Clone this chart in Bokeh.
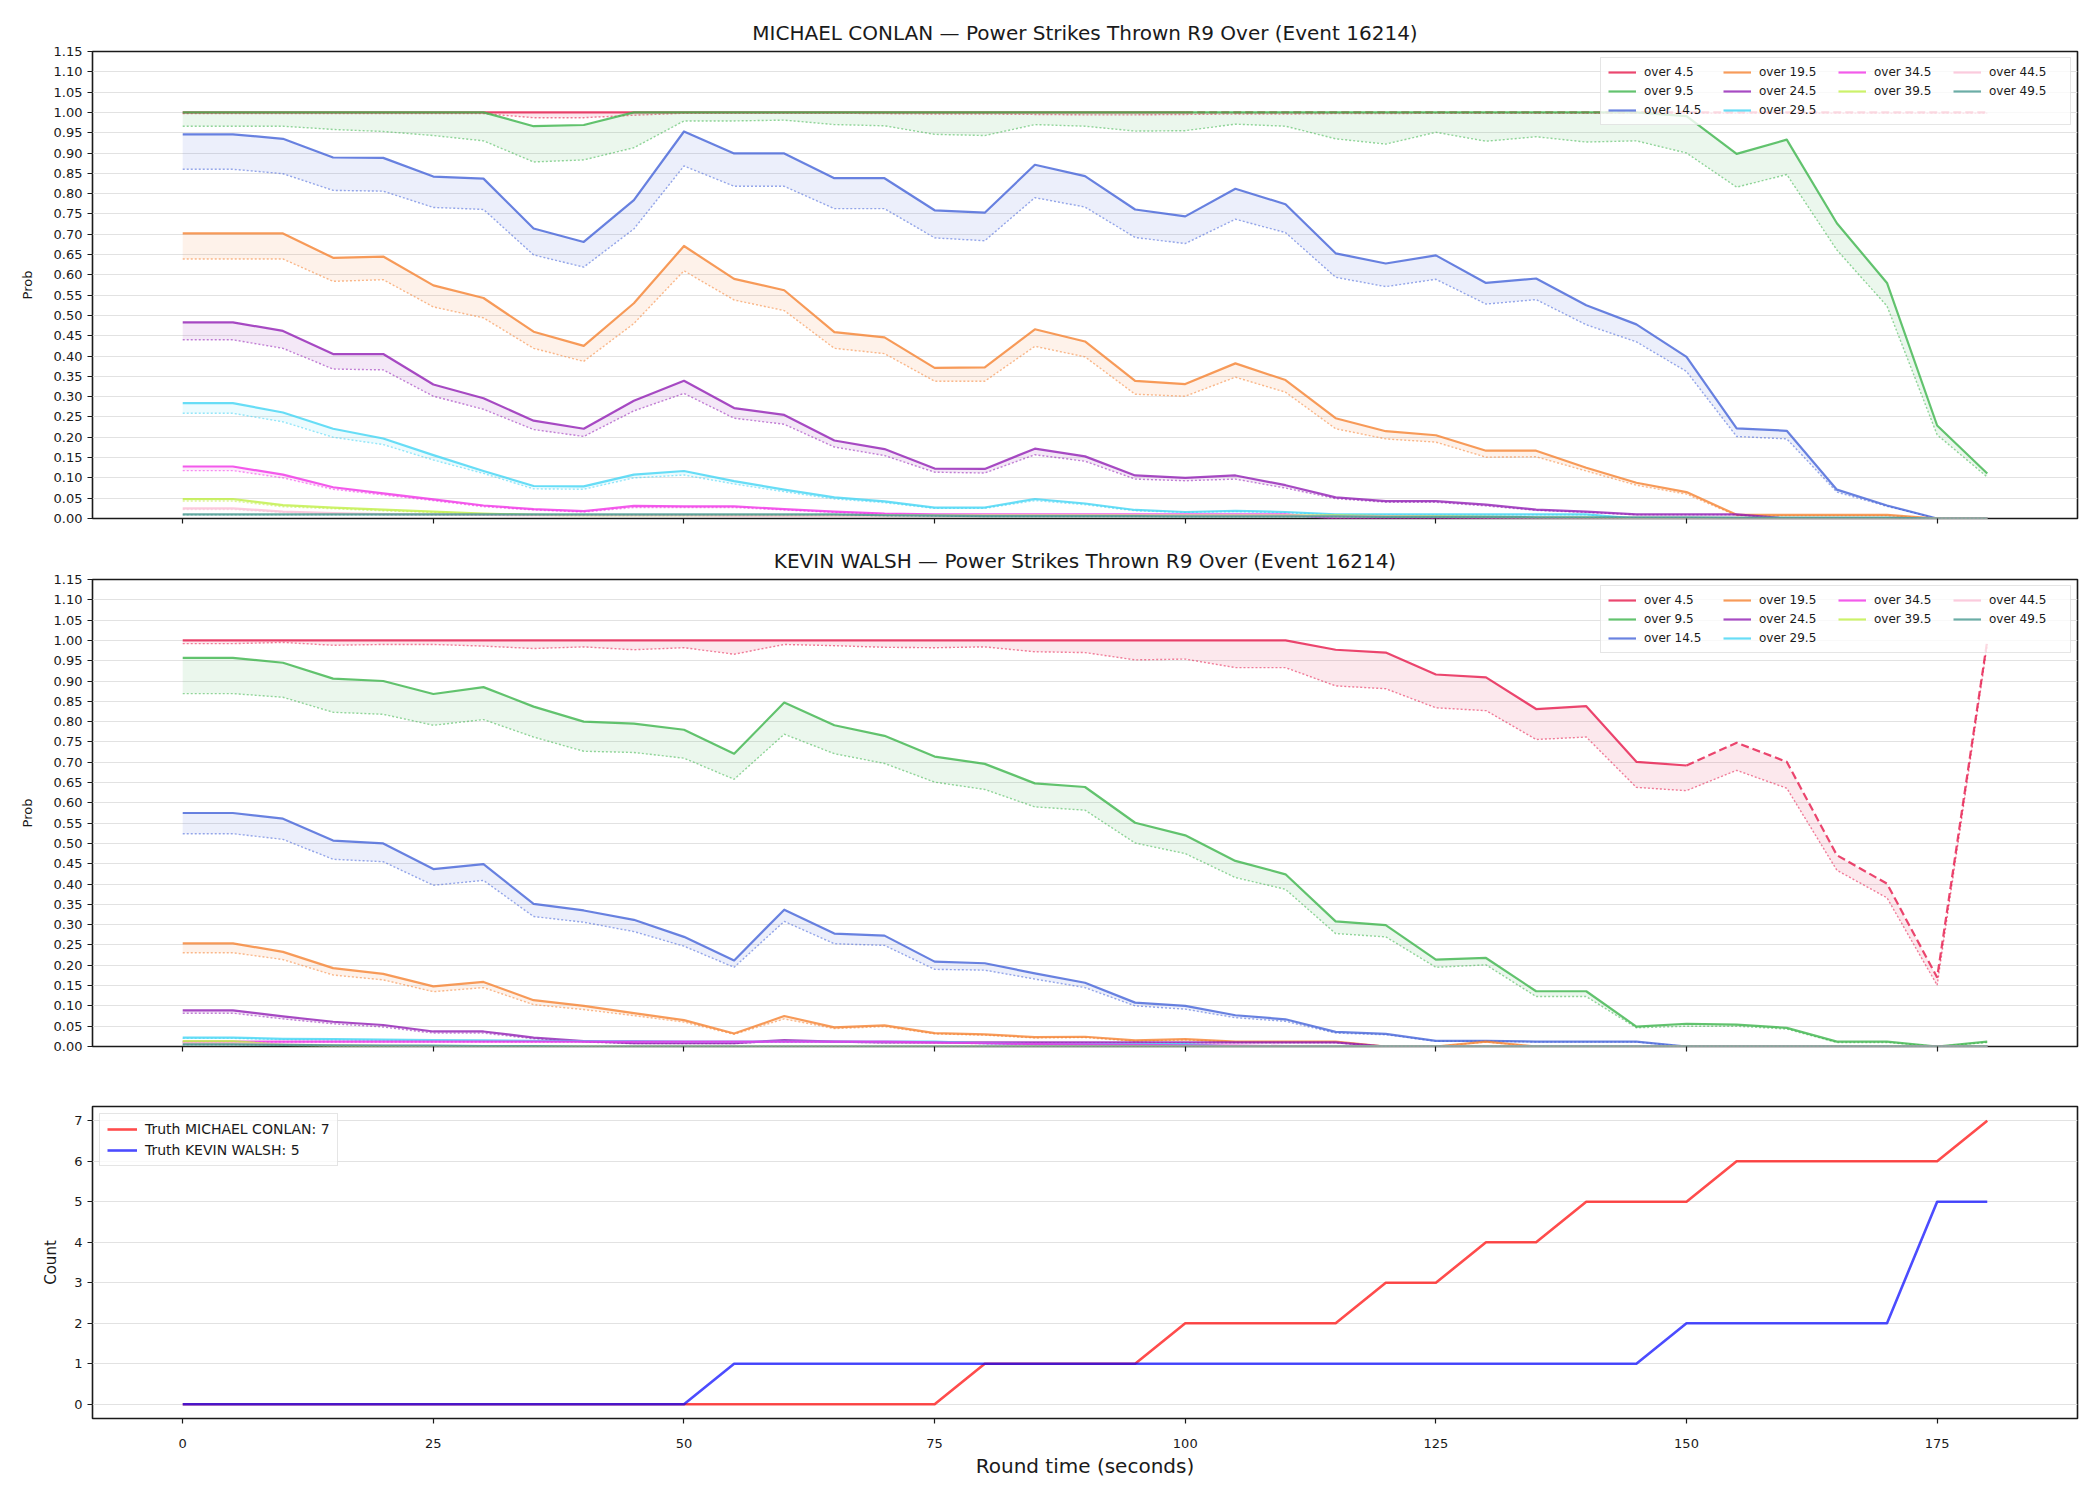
from bokeh.plotting import figure
from bokeh.layouts import column
from bokeh.models import FixedTicker, NumeralTickFormatter, Legend, LegendItem, Range1d
from bokeh.embed import file_html
from bokeh.resources import INLINE

# ---------------------------------------------------------------- data
seconds = [0, 5, 10, 15, 20, 25, 30, 35, 40, 45, 50, 55, 60, 65, 70, 75, 80, 85, 90,
           95, 100, 105, 110, 115, 120, 125, 130, 135, 140, 145, 150, 155, 160, 165,
           170, 175, 180]

fighters = ["MICHAEL CONLAN", "KEVIN WALSH"]
market = "Power Strikes Thrown R9 Over"
event_id = 16214

thresholds = ["over 4.5", "over 9.5", "over 14.5", "over 19.5", "over 24.5",
              "over 29.5", "over 34.5", "over 39.5", "over 44.5", "over 49.5"]
palette = ["#e6194b", "#3cb44b", "#4363d8", "#f58231", "#911eb4",
           "#42d4f4", "#f032e6", "#bfef45", "#fabed4", "#469990"]

# over 4.5 is drawn dashed from these times on
dashed_from = {"MICHAEL CONLAN": 100, "KEVIN WALSH": 150}

# MICHAEL CONLAN: model probability (solid) and lower band (dotted)
conlan_45 = [1.000, 1.000, 1.000, 1.000, 1.000, 1.000, 1.000, 1.000, 1.000, 1.000, 1.000,
             1.000, 1.000, 1.000, 1.000, 1.000, 1.000, 1.000, 1.000, 1.000, 1.000, 1.000, 1.000,
             1.000, 1.000, 1.000, 1.000, 1.000, 1.000, 1.000, 1.000, 1.000, 1.000, 1.000, 1.000, 1.000, 1.000]
conlan_45_lo = [0.997, 0.997, 0.997, 0.997, 0.997, 0.997, 0.997, 0.987, 0.987, 0.993, 0.998,
                0.998, 0.998, 0.998, 0.997, 0.996, 0.996, 0.995, 0.994, 0.994, 0.995, 0.996, 0.996,
                0.997, 0.997, 0.998, 0.998, 0.998, 0.998, 0.998, 0.998, 0.998, 0.998, 0.998, 0.998, 0.998, 0.998]
conlan_95 = [1.000, 1.000, 1.000, 1.000, 1.000, 1.000, 1.000, 0.966, 0.969, 1.000, 1.000,
             1.000, 1.000, 1.000, 1.000, 1.000, 1.000, 1.000, 1.000, 1.000, 1.000, 1.000, 1.000,
             1.000, 1.000, 1.000, 1.000, 1.000, 1.000, 1.000, 0.991, 0.898, 0.933, 0.727, 0.580, 0.229, 0.111]
conlan_95_lo = [0.966, 0.966, 0.966, 0.958, 0.953, 0.943, 0.930, 0.878, 0.883, 0.913, 0.979,
                0.979, 0.981, 0.970, 0.967, 0.946, 0.943, 0.970, 0.966, 0.954, 0.955, 0.971, 0.966,
                0.935, 0.922, 0.951, 0.929, 0.940, 0.927, 0.930, 0.900, 0.816, 0.847, 0.661, 0.523, 0.206, 0.102]
conlan_145 = [0.946, 0.946, 0.935, 0.889, 0.888, 0.842, 0.837, 0.714, 0.681, 0.784, 0.953,
              0.899, 0.899, 0.838, 0.838, 0.759, 0.753, 0.871, 0.843, 0.761, 0.744, 0.812, 0.774,
              0.653, 0.628, 0.648, 0.580, 0.591, 0.525, 0.478, 0.398, 0.222, 0.216, 0.071, 0.032, 0.000, 0.000]
conlan_145_lo = [0.860, 0.860, 0.849, 0.808, 0.806, 0.766, 0.761, 0.649, 0.619, 0.713, 0.868,
                 0.818, 0.818, 0.763, 0.763, 0.691, 0.684, 0.790, 0.767, 0.692, 0.677, 0.737, 0.704,
                 0.594, 0.571, 0.589, 0.528, 0.539, 0.477, 0.435, 0.362, 0.202, 0.196, 0.065, 0.030, 0.000, 0.000]
conlan_195 = [0.702, 0.702, 0.702, 0.642, 0.645, 0.574, 0.543, 0.460, 0.425, 0.530, 0.671,
              0.590, 0.562, 0.459, 0.446, 0.371, 0.372, 0.466, 0.436, 0.339, 0.331, 0.382, 0.341,
              0.247, 0.215, 0.205, 0.167, 0.167, 0.125, 0.088, 0.065, 0.009, 0.009, 0.009, 0.009, 0.000, 0.000]
conlan_195_lo = [0.639, 0.639, 0.639, 0.584, 0.588, 0.521, 0.494, 0.419, 0.387, 0.480, 0.610,
                 0.538, 0.512, 0.419, 0.406, 0.338, 0.338, 0.424, 0.398, 0.306, 0.301, 0.348, 0.311,
                 0.221, 0.196, 0.188, 0.151, 0.152, 0.117, 0.082, 0.060, 0.007, 0.007, 0.007, 0.007, 0.000, 0.000]
conlan_245 = [0.483, 0.483, 0.462, 0.405, 0.405, 0.330, 0.296, 0.241, 0.221, 0.290, 0.339,
              0.272, 0.255, 0.192, 0.171, 0.123, 0.122, 0.172, 0.153, 0.106, 0.100, 0.106, 0.082,
              0.052, 0.043, 0.043, 0.034, 0.022, 0.017, 0.010, 0.010, 0.010, 0.000, 0.000, 0.000, 0.000, 0.000]
conlan_245_lo = [0.440, 0.440, 0.419, 0.368, 0.366, 0.301, 0.269, 0.219, 0.202, 0.265, 0.308,
                 0.247, 0.232, 0.176, 0.155, 0.114, 0.112, 0.157, 0.141, 0.097, 0.093, 0.097, 0.075,
                 0.049, 0.040, 0.040, 0.031, 0.020, 0.015, 0.009, 0.009, 0.009, 0.000, 0.000, 0.000, 0.000, 0.000]
conlan_295 = [0.284, 0.284, 0.261, 0.221, 0.197, 0.156, 0.117, 0.080, 0.079, 0.108, 0.117,
              0.092, 0.071, 0.052, 0.042, 0.027, 0.027, 0.048, 0.037, 0.021, 0.016, 0.019, 0.016,
              0.010, 0.010, 0.010, 0.010, 0.010, 0.010, 0.000, 0.000, 0.000, 0.000, 0.000, 0.000, 0.000, 0.000]
conlan_295_lo = [0.259, 0.259, 0.238, 0.200, 0.182, 0.144, 0.111, 0.073, 0.072, 0.100, 0.107,
                 0.085, 0.066, 0.048, 0.039, 0.025, 0.025, 0.044, 0.034, 0.019, 0.015, 0.017, 0.014,
                 0.009, 0.009, 0.009, 0.009, 0.009, 0.009, 0.000, 0.000, 0.000, 0.000, 0.000, 0.000, 0.000, 0.000]
conlan_345 = [0.128, 0.128, 0.108, 0.077, 0.062, 0.047, 0.032, 0.023, 0.018, 0.031, 0.030,
              0.030, 0.023, 0.017, 0.012, 0.010, 0.010, 0.010, 0.010, 0.010, 0.010, 0.010, 0.010,
              0.000, 0.000, 0.000, 0.000, 0.000, 0.000, 0.000, 0.000, 0.000, 0.000, 0.000, 0.000, 0.000, 0.000]
conlan_345_lo = [0.118, 0.118, 0.100, 0.072, 0.058, 0.044, 0.029, 0.021, 0.016, 0.027, 0.027,
                 0.027, 0.021, 0.015, 0.011, 0.009, 0.009, 0.009, 0.009, 0.009, 0.009, 0.009, 0.009,
                 0.000, 0.000, 0.000, 0.000, 0.000, 0.000, 0.000, 0.000, 0.000, 0.000, 0.000, 0.000, 0.000, 0.000]
conlan_395 = [0.048, 0.048, 0.033, 0.027, 0.022, 0.017, 0.012, 0.009, 0.008, 0.008, 0.008,
              0.008, 0.008, 0.008, 0.008, 0.008, 0.008, 0.008, 0.008, 0.008, 0.008, 0.008, 0.008,
              0.008, 0.006, 0.005, 0.004, 0.003, 0.002, 0.000, 0.000, 0.000, 0.000, 0.000, 0.000, 0.000, 0.000]
conlan_395_lo = [0.043, 0.043, 0.029, 0.024, 0.019, 0.015, 0.010, 0.008, 0.007, 0.007, 0.007,
                 0.007, 0.007, 0.007, 0.007, 0.007, 0.007, 0.007, 0.007, 0.007, 0.007, 0.007, 0.007,
                 0.007, 0.005, 0.004, 0.003, 0.002, 0.001, 0.000, 0.000, 0.000, 0.000, 0.000, 0.000, 0.000, 0.000]
conlan_445 = [0.025, 0.025, 0.017, 0.013, 0.011, 0.010, 0.009, 0.008, 0.008, 0.008, 0.008,
              0.007, 0.007, 0.007, 0.007, 0.007, 0.007, 0.007, 0.007, 0.007, 0.007, 0.007, 0.007,
              0.006, 0.005, 0.004, 0.003, 0.002, 0.001, 0.000, 0.000, 0.000, 0.000, 0.000, 0.000, 0.000, 0.000]
conlan_445_lo = [0.022, 0.022, 0.015, 0.011, 0.010, 0.009, 0.008, 0.007, 0.007, 0.007, 0.007,
                 0.006, 0.006, 0.006, 0.006, 0.006, 0.006, 0.006, 0.006, 0.006, 0.006, 0.006, 0.006,
                 0.005, 0.004, 0.003, 0.002, 0.001, 0.001, 0.000, 0.000, 0.000, 0.000, 0.000, 0.000, 0.000, 0.000]
conlan_495 = [0.010, 0.010, 0.010, 0.010, 0.010, 0.010, 0.010, 0.010, 0.010, 0.010, 0.010,
              0.010, 0.010, 0.010, 0.008, 0.007, 0.006, 0.006, 0.006, 0.006, 0.005, 0.005, 0.005,
              0.005, 0.004, 0.004, 0.004, 0.003, 0.003, 0.003, 0.003, 0.002, 0.002, 0.002, 0.002, 0.000, 0.000]
conlan_495_lo = [0.009, 0.009, 0.009, 0.009, 0.009, 0.009, 0.009, 0.009, 0.009, 0.009, 0.009,
                 0.009, 0.009, 0.009, 0.007, 0.006, 0.005, 0.005, 0.005, 0.005, 0.004, 0.004, 0.004,
                 0.004, 0.003, 0.003, 0.003, 0.002, 0.002, 0.002, 0.002, 0.001, 0.001, 0.001, 0.001, 0.000, 0.000]

# KEVIN WALSH: model probability (solid) and lower band (dotted)
walsh_45 = [1.000, 1.000, 1.000, 1.000, 1.000, 1.000, 1.000, 1.000, 1.000, 1.000, 1.000,
            1.000, 1.000, 1.000, 1.000, 1.000, 1.000, 1.000, 1.000, 1.000, 1.000, 1.000, 1.000,
            0.977, 0.970, 0.916, 0.909, 0.831, 0.838, 0.701, 0.692, 0.748, 0.701, 0.471, 0.401, 0.170, 1.000]
walsh_45_lo = [0.992, 0.992, 0.995, 0.988, 0.990, 0.990, 0.986, 0.980, 0.984, 0.977, 0.982,
               0.966, 0.990, 0.987, 0.983, 0.982, 0.984, 0.972, 0.970, 0.952, 0.954, 0.933, 0.933,
               0.888, 0.881, 0.834, 0.827, 0.756, 0.762, 0.638, 0.630, 0.680, 0.636, 0.434, 0.366, 0.151, 0.990]
walsh_95 = [0.957, 0.957, 0.945, 0.906, 0.900, 0.868, 0.885, 0.837, 0.800, 0.795, 0.780,
            0.721, 0.847, 0.791, 0.765, 0.714, 0.696, 0.648, 0.639, 0.551, 0.520, 0.457, 0.424,
            0.308, 0.299, 0.214, 0.218, 0.136, 0.136, 0.049, 0.056, 0.054, 0.046, 0.012, 0.012, 0.000, 0.012]
walsh_95_lo = [0.869, 0.869, 0.860, 0.823, 0.818, 0.791, 0.805, 0.762, 0.727, 0.724, 0.710,
               0.658, 0.769, 0.721, 0.697, 0.651, 0.633, 0.590, 0.582, 0.501, 0.475, 0.416, 0.387,
               0.278, 0.270, 0.195, 0.201, 0.123, 0.123, 0.046, 0.050, 0.050, 0.043, 0.010, 0.010, 0.000, 0.010]
walsh_145 = [0.575, 0.575, 0.561, 0.507, 0.500, 0.437, 0.449, 0.351, 0.335, 0.312, 0.270,
             0.212, 0.337, 0.278, 0.273, 0.209, 0.205, 0.180, 0.157, 0.108, 0.100, 0.077, 0.067,
             0.036, 0.031, 0.014, 0.014, 0.012, 0.012, 0.012, 0.000, 0.000, 0.000, 0.000, 0.000, 0.000, 0.000]
walsh_145_lo = [0.524, 0.524, 0.510, 0.461, 0.455, 0.397, 0.409, 0.320, 0.306, 0.283, 0.247,
                0.195, 0.308, 0.253, 0.249, 0.190, 0.188, 0.166, 0.145, 0.100, 0.092, 0.071, 0.062,
                0.033, 0.029, 0.013, 0.013, 0.011, 0.011, 0.011, 0.000, 0.000, 0.000, 0.000, 0.000, 0.000, 0.000]
walsh_195 = [0.254, 0.254, 0.233, 0.193, 0.179, 0.148, 0.159, 0.114, 0.100, 0.082, 0.065,
             0.032, 0.075, 0.047, 0.052, 0.033, 0.030, 0.023, 0.024, 0.015, 0.018, 0.012, 0.012,
             0.012, 0.000, 0.000, 0.012, 0.000, 0.000, 0.000, 0.000, 0.000, 0.000, 0.000, 0.000, 0.000, 0.000]
walsh_195_lo = [0.231, 0.231, 0.214, 0.176, 0.164, 0.135, 0.145, 0.103, 0.091, 0.076, 0.060,
                0.030, 0.068, 0.044, 0.049, 0.031, 0.028, 0.021, 0.022, 0.013, 0.016, 0.011, 0.011,
                0.011, 0.000, 0.000, 0.011, 0.000, 0.000, 0.000, 0.000, 0.000, 0.000, 0.000, 0.000, 0.000, 0.000]
walsh_245 = [0.089, 0.089, 0.074, 0.061, 0.053, 0.037, 0.037, 0.022, 0.013, 0.008, 0.008,
             0.008, 0.016, 0.012, 0.010, 0.010, 0.010, 0.010, 0.010, 0.010, 0.010, 0.010, 0.010,
             0.010, 0.000, 0.000, 0.000, 0.000, 0.000, 0.000, 0.000, 0.000, 0.000, 0.000, 0.000, 0.000, 0.000]
walsh_245_lo = [0.082, 0.082, 0.068, 0.056, 0.048, 0.033, 0.033, 0.019, 0.011, 0.007, 0.007,
                0.007, 0.014, 0.011, 0.009, 0.009, 0.009, 0.009, 0.009, 0.009, 0.009, 0.009, 0.009,
                0.009, 0.000, 0.000, 0.000, 0.000, 0.000, 0.000, 0.000, 0.000, 0.000, 0.000, 0.000, 0.000, 0.000]
walsh_295 = [0.022, 0.022, 0.019, 0.018, 0.017, 0.016, 0.015, 0.014, 0.013, 0.013, 0.012,
             0.012, 0.012, 0.012, 0.012, 0.012, 0.008, 0.006, 0.006, 0.006, 0.006, 0.000, 0.000,
             0.000, 0.000, 0.000, 0.000, 0.000, 0.000, 0.000, 0.000, 0.000, 0.000, 0.000, 0.000, 0.000, 0.000]
walsh_295_lo = [0.020, 0.020, 0.017, 0.016, 0.015, 0.014, 0.013, 0.012, 0.012, 0.012, 0.011,
                0.011, 0.011, 0.011, 0.011, 0.011, 0.007, 0.005, 0.005, 0.005, 0.005, 0.000, 0.000,
                0.000, 0.000, 0.000, 0.000, 0.000, 0.000, 0.000, 0.000, 0.000, 0.000, 0.000, 0.000, 0.000, 0.000]
walsh_345 = [0.012, 0.012, 0.012, 0.012, 0.012, 0.012, 0.012, 0.012, 0.012, 0.012, 0.012,
             0.012, 0.012, 0.012, 0.012, 0.010, 0.008, 0.006, 0.005, 0.004, 0.003, 0.002, 0.001,
             0.000, 0.000, 0.000, 0.000, 0.000, 0.000, 0.000, 0.000, 0.000, 0.000, 0.000, 0.000, 0.000, 0.000]
walsh_345_lo = [0.011, 0.011, 0.011, 0.011, 0.011, 0.011, 0.011, 0.011, 0.011, 0.011, 0.011,
                0.011, 0.011, 0.011, 0.011, 0.009, 0.007, 0.005, 0.004, 0.003, 0.002, 0.001, 0.000,
                0.000, 0.000, 0.000, 0.000, 0.000, 0.000, 0.000, 0.000, 0.000, 0.000, 0.000, 0.000, 0.000, 0.000]
walsh_395 = [0.013, 0.013, 0.004, 0.002, 0.001, 0.000, 0.000, 0.000, 0.000, 0.000, 0.000,
             0.000, 0.000, 0.000, 0.000, 0.000, 0.000, 0.000, 0.000, 0.000, 0.000, 0.000, 0.000,
             0.000, 0.000, 0.000, 0.000, 0.000, 0.000, 0.000, 0.000, 0.000, 0.000, 0.000, 0.000, 0.000, 0.000]
walsh_395_lo = [0.011, 0.011, 0.003, 0.001, 0.000, 0.000, 0.000, 0.000, 0.000, 0.000, 0.000,
                0.000, 0.000, 0.000, 0.000, 0.000, 0.000, 0.000, 0.000, 0.000, 0.000, 0.000, 0.000,
                0.000, 0.000, 0.000, 0.000, 0.000, 0.000, 0.000, 0.000, 0.000, 0.000, 0.000, 0.000, 0.000, 0.000]
walsh_445 = [0.008, 0.008, 0.005, 0.003, 0.002, 0.001, 0.000, 0.000, 0.000, 0.000, 0.000,
             0.000, 0.000, 0.000, 0.000, 0.000, 0.000, 0.000, 0.000, 0.000, 0.000, 0.000, 0.000,
             0.000, 0.000, 0.000, 0.000, 0.000, 0.000, 0.000, 0.000, 0.000, 0.000, 0.000, 0.000, 0.000, 0.000]
walsh_445_lo = [0.007, 0.007, 0.004, 0.002, 0.001, 0.000, 0.000, 0.000, 0.000, 0.000, 0.000,
                0.000, 0.000, 0.000, 0.000, 0.000, 0.000, 0.000, 0.000, 0.000, 0.000, 0.000, 0.000,
                0.000, 0.000, 0.000, 0.000, 0.000, 0.000, 0.000, 0.000, 0.000, 0.000, 0.000, 0.000, 0.000, 0.000]
walsh_495 = [0.005, 0.005, 0.004, 0.003, 0.002, 0.002, 0.001, 0.001, 0.000, 0.000, 0.000,
             0.000, 0.000, 0.000, 0.000, 0.000, 0.000, 0.000, 0.000, 0.000, 0.000, 0.000, 0.000,
             0.000, 0.000, 0.000, 0.000, 0.000, 0.000, 0.000, 0.000, 0.000, 0.000, 0.000, 0.000, 0.000, 0.000]
walsh_495_lo = [0.004, 0.004, 0.003, 0.002, 0.001, 0.001, 0.000, 0.000, 0.000, 0.000, 0.000,
                0.000, 0.000, 0.000, 0.000, 0.000, 0.000, 0.000, 0.000, 0.000, 0.000, 0.000, 0.000,
                0.000, 0.000, 0.000, 0.000, 0.000, 0.000, 0.000, 0.000, 0.000, 0.000, 0.000, 0.000, 0.000, 0.000]

# running count of power strikes thrown
truth_conlan = [0, 0, 0, 0, 0, 0, 0, 0, 0, 0, 0, 0, 0, 0, 0, 0, 1, 1, 1, 1, 2, 2, 2, 2,
                3, 3, 4, 4, 5, 5, 5, 6, 6, 6, 6, 6, 7]
truth_walsh = [0, 0, 0, 0, 0, 0, 0, 0, 0, 0, 0, 1, 1, 1, 1, 1, 1, 1, 1, 1, 1, 1, 1, 1,
               1, 1, 1, 1, 1, 1, 2, 2, 2, 2, 2, 5, 5]

prob_ticks = [0.00, 0.05, 0.10, 0.15, 0.20, 0.25, 0.30, 0.35, 0.40, 0.45, 0.50, 0.55,
              0.60, 0.65, 0.70, 0.75, 0.80, 0.85, 0.90, 0.95, 1.00, 1.05, 1.10, 1.15]
time_ticks = [0, 25, 50, 75, 100, 125, 150, 175]
count_ticks = [0, 1, 2, 3, 4, 5, 6, 7]

conlan_solid = [conlan_45, conlan_95, conlan_145, conlan_195, conlan_245,
                conlan_295, conlan_345, conlan_395, conlan_445, conlan_495]
conlan_lower = [conlan_45_lo, conlan_95_lo, conlan_145_lo, conlan_195_lo, conlan_245_lo,
                conlan_295_lo, conlan_345_lo, conlan_395_lo, conlan_445_lo, conlan_495_lo]
walsh_solid = [walsh_45, walsh_95, walsh_145, walsh_195, walsh_245,
               walsh_295, walsh_345, walsh_395, walsh_445, walsh_495]
walsh_lower = [walsh_45_lo, walsh_95_lo, walsh_145_lo, walsh_195_lo, walsh_245_lo,
               walsh_295_lo, walsh_345_lo, walsh_395_lo, walsh_445_lo, walsh_495_lo]

# ---------------------------------------------------------------- styling
FONT = "DejaVu Sans"
INK = "#1a1a1a"
W = 2100
X_RANGE = (-9, 189)


def style_axes(p):
    p.outline_line_color = INK
    p.outline_line_width = 1.6
    p.outline_line_alpha = 1.0
    p.xgrid.visible = False
    p.ygrid.grid_line_color = "#e2e2e2"
    p.ygrid.grid_line_width = 1
    for ax in list(p.xaxis) + list(p.yaxis):
        ax.axis_line_color = None
        ax.major_tick_line_color = INK
        ax.major_tick_line_width = 1.2
        ax.major_tick_out = 5
        ax.major_tick_in = 0
        ax.minor_tick_line_color = None
        ax.major_label_text_font = FONT
        ax.major_label_text_font_size = "13px"
        ax.major_label_text_color = INK
        ax.axis_label_text_font = FONT
        ax.axis_label_text_font_style = "normal"
        ax.axis_label_text_color = INK
    p.xaxis.ticker = FixedTicker(ticks=time_ticks)
    p.title.text_font = FONT
    p.title.text_font_size = "20px"
    p.title.text_font_style = "normal"
    p.title.text_color = INK
    p.title.align = "center"
    p.title.standoff = 13


def prob_panel(name, solid, lower, height, top_border):
    p = figure(width=W, height=height, x_range=Range1d(*X_RANGE), y_range=Range1d(0, 1.15),
               output_backend="svg", toolbar_location=None,
               title=f"{name} \u2014 {market} (Event {event_id})",
               min_border_left=92, min_border_right=23, min_border_top=top_border,
               min_border_bottom=22)
    style_axes(p)
    p.yaxis.ticker = FixedTicker(ticks=prob_ticks)
    p.yaxis.formatter = NumeralTickFormatter(format="0.00")
    p.yaxis.axis_label = "Prob"
    p.yaxis.axis_label_text_font_size = "13px"
    p.yaxis.axis_label_standoff = 16
    # shared time axis: tick marks only, the numbers sit under the last panel
    p.xaxis.major_label_text_color = None
    p.xaxis.major_label_text_font_size = "1px"
    p.xaxis.major_label_standoff = 0

    items = []
    split = seconds.index(dashed_from[name])
    for i, label in enumerate(thresholds):
        c = palette[i]
        p.varea(x=seconds, y1=lower[i], y2=solid[i], fill_color=c, fill_alpha=0.1)
        p.line(seconds, lower[i], line_color=c, line_alpha=0.55, line_width=1.4,
               line_dash="2 2")
        if i == 0:
            r = p.line(seconds[:split + 1], solid[i][:split + 1], line_color=c,
                       line_alpha=0.8, line_width=2.2, line_join="round")
            p.line(seconds[split:], solid[i][split:], line_color=c, line_alpha=0.8,
                   line_width=2.2, line_dash="8 4")
        else:
            r = p.line(seconds, solid[i], line_color=c, line_alpha=0.8, line_width=2.2,
                       line_join="round")
        items.append(LegendItem(label=label, renderers=[r]))

    # empty slot so the four legend columns hold 3, 3, 2 and 2 entries
    blank = p.line([seconds[0]], [0], line_alpha=0)
    items.insert(8, LegendItem(label=" ", renderers=[blank]))

    leg = Legend(items=items, location="top_right", orientation="vertical",
                 nrows=3, ncols=4,
                 label_text_font=FONT, label_text_font_size="12px", label_text_color=INK,
                 glyph_width=28, glyph_height=12, label_height=12, label_width=74,
                 label_standoff=8, spacing=5, padding=7, margin=6,
                 border_line_color="#cccccc", border_line_width=1.5,
                 background_fill_color="white", background_fill_alpha=0.8)
    p.add_layout(leg)
    return p


p1 = prob_panel(fighters[0], conlan_solid, conlan_lower, 540, 51)
p2 = prob_panel(fighters[1], walsh_solid, walsh_lower, 528, 39)

# ---------------------------------------------------------------- counts
p3 = figure(width=W, height=432, x_range=Range1d(*X_RANGE), y_range=Range1d(-0.35, 7.35),
            output_backend="svg", toolbar_location=None,
            min_border_left=92, min_border_right=23, min_border_top=38, min_border_bottom=82)
style_axes(p3)
p3.yaxis.ticker = FixedTicker(ticks=count_ticks)
p3.yaxis.axis_label = "Count"
p3.yaxis.axis_label_text_font_size = "15px"
p3.yaxis.axis_label_standoff = 11
p3.xaxis.axis_label = "Round time (seconds)"
p3.xaxis.axis_label_text_font_size = "20px"
p3.xaxis.major_label_standoff = 15
p3.xaxis.axis_label_standoff = 3

r_c = p3.line(seconds, truth_conlan, line_color="red", line_alpha=0.7, line_width=2.6,
              line_join="round")
r_w = p3.line(seconds, truth_walsh, line_color="blue", line_alpha=0.7, line_width=2.6,
              line_join="round")
leg3 = Legend(items=[LegendItem(label=f"Truth {fighters[0]}: {truth_conlan[-1]}", renderers=[r_c]),
                     LegendItem(label=f"Truth {fighters[1]}: {truth_walsh[-1]}", renderers=[r_w])],
              location="top_left", orientation="vertical",
              label_text_font=FONT, label_text_font_size="14px", label_text_color=INK,
              glyph_width=30, glyph_height=14, label_height=14, label_standoff=8,
              spacing=5, padding=7, margin=7,
              border_line_color="#cccccc", border_line_width=1.5,
              background_fill_color="white", background_fill_alpha=0.8)
p3.add_layout(leg3)

page = column(p1, p2, p3)
open("out.html", "w").write(file_html(page, INLINE))
